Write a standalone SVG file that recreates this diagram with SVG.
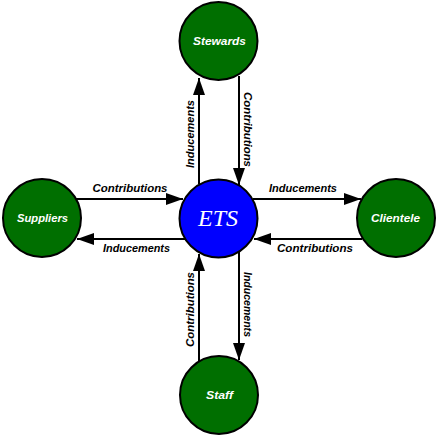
<svg xmlns="http://www.w3.org/2000/svg" width="438" height="439" viewBox="0 0 438 439">
<defs>
<marker id="ah" markerUnits="userSpaceOnUse" markerWidth="18" markerHeight="12" refX="17" refY="6" orient="auto">
<path d="M0,0 L17,6 L0,12 z" fill="#000"/>
</marker>
<style>
.n{fill:#006f00;stroke:#000;stroke-width:2}
.c{fill:#0000ff;stroke:#000;stroke-width:2}
.nl{font-family:"Liberation Sans",Arial,sans-serif;font-weight:bold;font-style:italic;font-size:11.5px;fill:#fff;text-anchor:middle}
.el{font-family:"Liberation Sans",Arial,sans-serif;font-weight:bold;font-style:italic;font-size:11px;fill:#000;text-anchor:middle}
.e{stroke:#000;stroke-width:2;fill:none;marker-end:url(#ah)}
</style>
</defs>
<rect width="438" height="439" fill="#fff"/>
<g id="connectors">
<line class="e" x1="199" y1="184" x2="199" y2="78"/>
<line class="e" x1="239" y1="76" x2="239" y2="185"/>
<line class="e" x1="76" y1="199" x2="183" y2="199"/>
<line class="e" x1="185" y1="239" x2="77" y2="239"/>
<line class="e" x1="253" y1="199" x2="361" y2="199"/>
<line class="e" x1="362" y1="239" x2="254" y2="239"/>
<line class="e" x1="199" y1="361" x2="199" y2="254"/>
<line class="e" x1="239" y1="252" x2="239" y2="360"/>
<text class="el" x="130" y="192" textLength="75" lengthAdjust="spacingAndGlyphs">Contributions</text>
<text class="el" x="136.5" y="252" textLength="67" lengthAdjust="spacingAndGlyphs">Inducements</text>
<text class="el" x="303" y="192" textLength="68" lengthAdjust="spacingAndGlyphs">Inducements</text>
<text class="el" x="315" y="252" textLength="76" lengthAdjust="spacingAndGlyphs">Contributions</text>
<text class="el" transform="translate(194,134) rotate(-90)" textLength="68" lengthAdjust="spacingAndGlyphs">Inducements</text>
<text class="el" transform="translate(244,129.5) rotate(90)" textLength="75" lengthAdjust="spacingAndGlyphs">Contributions</text>
<text class="el" transform="translate(194,309.5) rotate(-90)" textLength="75" lengthAdjust="spacingAndGlyphs">Contributions</text>
<text class="el" transform="translate(244,304.5) rotate(90)" textLength="65" lengthAdjust="spacingAndGlyphs">Inducements</text>
</g>
<g id="stewards"><circle class="n" cx="218.5" cy="41" r="39"/><text class="nl" x="219.5" y="45" textLength="53" lengthAdjust="spacingAndGlyphs">Stewards</text></g>
<g id="suppliers"><circle class="n" cx="42" cy="218" r="39"/><text class="nl" x="42.5" y="222" textLength="51" lengthAdjust="spacingAndGlyphs">Suppliers</text></g>
<g id="ets"><circle class="c" cx="218.5" cy="218.5" r="39"/><text x="218" y="226" font-family="Liberation Serif,'Times New Roman',serif" font-style="italic" font-size="24" fill="#fff" text-anchor="middle">ETS</text></g>
<g id="clientele"><circle class="n" cx="396" cy="218" r="39"/><text class="nl" x="395.5" y="222" textLength="49" lengthAdjust="spacingAndGlyphs">Clientele</text></g>
<g id="staff"><circle class="n" cx="219" cy="395" r="39"/><text class="nl" x="219.5" y="399" textLength="27" lengthAdjust="spacingAndGlyphs">Staff</text></g>
</svg>
